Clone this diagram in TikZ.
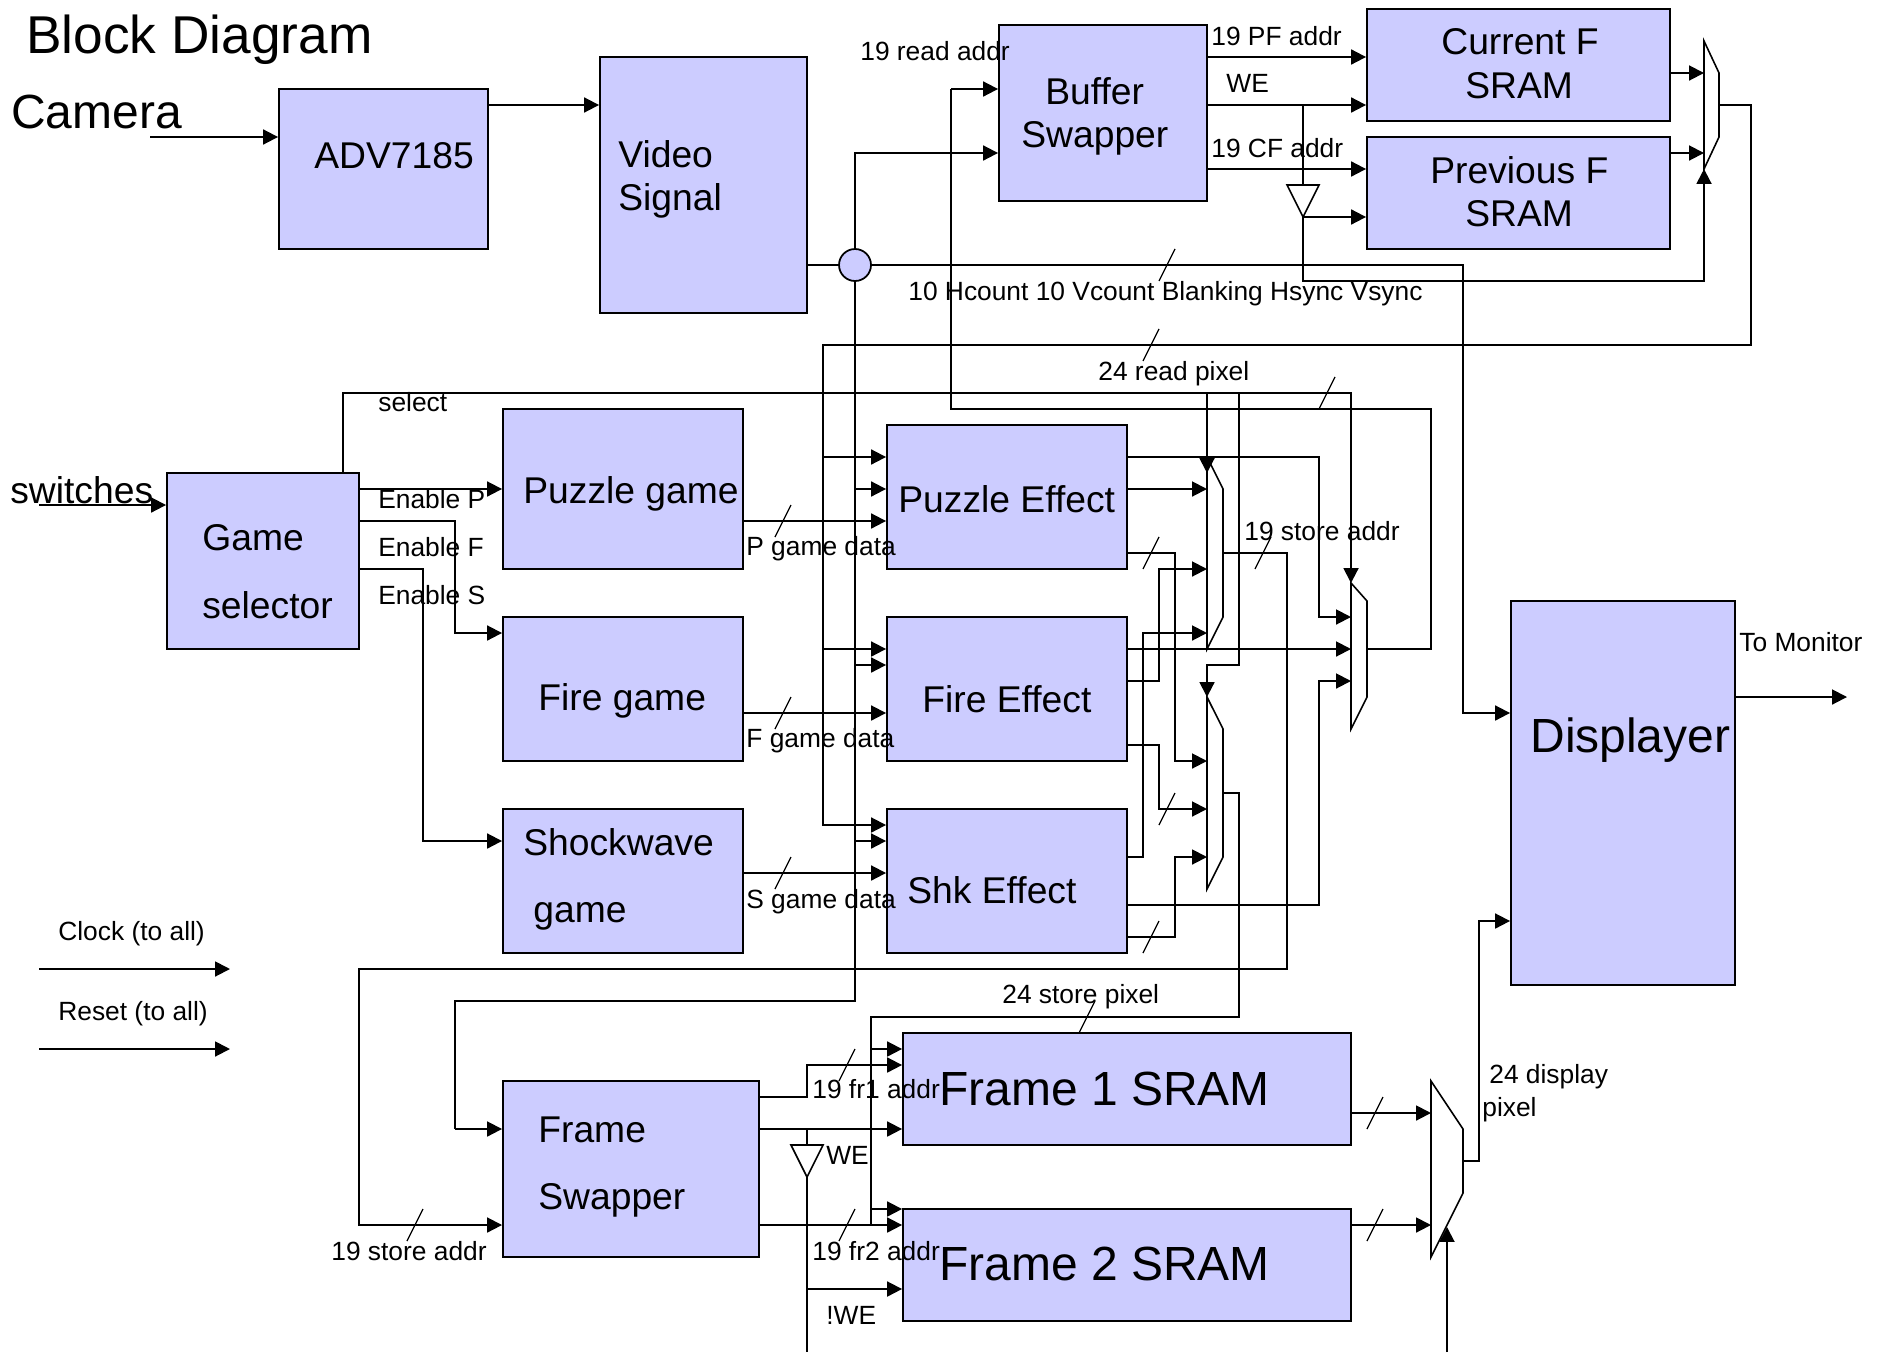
\documentclass[tikz,border=0pt]{standalone}
\usepackage{fontspec}
\setmainfont{Liberation Sans}
\usepackage{xcolor}
\usetikzlibrary{arrows.meta, calc}
\definecolor{blockblue}{RGB}{204,204,255}

\begin{document}
\begin{tikzpicture}[x=0.02cm, y=-0.02cm,
    blockbox/.style={rectangle, draw=black, fill=blockblue, line width=1.1pt, inner sep=0pt},
    muxnode/.style={rectangle, inner sep=0pt, outer sep=0pt},
    muxline/.style={line width=0.9pt, line join=miter},
    bubble/.style={circle, draw=black, fill=blockblue, line width=1pt, inner sep=0pt, minimum size=0.64cm},
    wire/.style={-{Triangle[length=8.5pt, width=8.5pt]}, line width=1.1pt},
    plainwire/.style={line width=1.1pt},
    hugetext/.style={anchor=base west, inner sep=0pt, font=\fontsize{30.3}{32}\selectfont},
    bigtext/.style={anchor=base west, inner sep=0pt, font=\fontsize{27.3}{29}\selectfont},
    midtext/.style={anchor=base west, inner sep=0pt, font=\fontsize{21.2}{23}\selectfont},
    smalltext/.style={anchor=base west, inner sep=0pt, font=\fontsize{15}{17}\selectfont}]
    \useasboundingbox (0,0) rectangle (1888,1352);

    % blocks
    \node[blockbox, minimum width=4.18cm, minimum height=3.2cm] (adv) at (383.5,169) {};
    \node[blockbox, minimum width=4.14cm, minimum height=5.12cm] (video) at (703.5,185) {};
    \node[blockbox, minimum width=4.16cm, minimum height=3.52cm] (bufsw) at (1103,113) {};
    \node[blockbox, minimum width=6.06cm, minimum height=2.24cm] (cursram) at (1518.5,65) {};
    \node[blockbox, minimum width=6.06cm, minimum height=2.24cm] (prevsram) at (1518.5,193) {};
    \node[blockbox, minimum width=3.84cm, minimum height=3.52cm] (gamesel) at (263,561) {};
    \node[blockbox, minimum width=4.8cm, minimum height=3.2cm] (puzgame) at (623,489) {};
    \node[blockbox, minimum width=4.8cm, minimum height=2.88cm] (firegame) at (623,689) {};
    \node[blockbox, minimum width=4.8cm, minimum height=2.88cm] (shkgame) at (623,881) {};
    \node[blockbox, minimum width=4.8cm, minimum height=2.88cm] (puzeff) at (1007,497) {};
    \node[blockbox, minimum width=4.8cm, minimum height=2.88cm] (fireeff) at (1007,689) {};
    \node[blockbox, minimum width=4.8cm, minimum height=2.88cm] (shkeff) at (1007,881) {};
    \node[blockbox, minimum width=5.12cm, minimum height=3.52cm] (frameswap) at (631,1169) {};
    \node[blockbox, minimum width=8.96cm, minimum height=2.24cm] (frameone) at (1127,1089) {};
    \node[blockbox, minimum width=8.96cm, minimum height=2.24cm] (frametwo) at (1127,1265) {};
    \node[blockbox, minimum width=4.48cm, minimum height=7.68cm] (disp) at (1623,793) {};
    \node[bubble] (split) at (855,265) {};

    % muxes and inverters
    \node[muxnode, minimum width=0.3cm, minimum height=2.56cm] (topmux) at (1711.5,105) {};
    \node[muxnode, minimum width=0.32cm, minimum height=3.84cm] (muxa) at (1215,553) {};
    \node[muxnode, minimum width=0.32cm, minimum height=3.84cm] (muxb) at (1215,793) {};
    \node[muxnode, minimum width=0.32cm, minimum height=2.92cm] (muxc) at (1359,656) {};
    \node[muxnode, minimum width=0.64cm, minimum height=3.52cm] (dispmux) at (1447,1169) {};
    \node[muxnode, minimum width=0.64cm, minimum height=0.64cm] (invtop) at (1303,201) {};
    \node[muxnode, minimum width=0.64cm, minimum height=0.64cm] (invbot) at (807,1161) {};
    \draw[muxline] (topmux.north west) -- (topmux.east |- 0,73) -- (topmux.east |- 0,137) -- (topmux.south west) -- cycle;
    \draw[muxline] (muxa.north west) -- (muxa.east |- 0,489) -- (muxa.east |- 0,617) -- (muxa.south west) -- cycle;
    \draw[muxline] (muxb.north west) -- (muxb.east |- 0,729) -- (muxb.east |- 0,857) -- (muxb.south west) -- cycle;
    \draw[muxline] (muxc.north west) -- (muxc.east |- 0,601) -- (muxc.east |- 0,697) -- (muxc.south west) -- cycle;
    \draw[muxline] (dispmux.north west) -- (dispmux.east |- 0,1129) -- (dispmux.east |- 0,1193) -- (dispmux.south west) -- cycle;
    \draw[muxline] (invtop.north west) -- (invtop.north east) -- (invtop.south) -- cycle;
    \draw[muxline] (invbot.north west) -- (invbot.north east) -- (invbot.south) -- cycle;

    % free ends
    \coordinate (camin) at (150,137);
    \coordinate (swin) at (39,505);
    \coordinate (clockin) at (39,969);
    \coordinate (clockout) at (230,969);
    \coordinate (resetin) at (39,1049);
    \coordinate (resetout) at (230,1049);
    \coordinate (monout) at (1847,697);
    \coordinate (webot) at (807,1352);
    \coordinate (dispsel) at (1447,1352);

    % top row
    \draw[wire] (camin) -- (adv.west |- camin);
    \draw[wire] (adv.east |- 0,105) -- (video.west |- 0,105);
    \draw[plainwire] (video.east |- split) -- (split);
    \draw[wire] (split) -- (split |- 0,153) -- (bufsw.west |- 0,153);
    \draw[wire] (bufsw.east |- 0,57) -- (cursram.west |- 0,57);
    \draw[wire] (bufsw.east |- 0,105) -- (cursram.west |- 0,105);
    \draw[wire] (bufsw.east |- 0,169) -- (prevsram.west |- 0,169);
    \draw[plainwire] (invtop.north |- 0,105) -- (invtop.north);
    \draw[wire] (invtop.south) -- (prevsram.west |- invtop.south);
    \draw[wire] (invtop.south) -- (1303,281) -- (1704,281) -- (topmux.south west);
    \draw[wire] (cursram.east |- 0,73) -- (topmux.west |- 0,73);
    \draw[wire] (prevsram.east |- 0,153) -- (topmux.west |- 0,153);
    \draw[wire] (split) -- (1463,265) -- (1463,713) -- (disp.west |- 0,713);
    \draw[wire] (disp.east |- monout) -- (monout);

    % read pixel bus
    \draw[wire] (topmux.east) -- (1751,105) -- (1751,345) -- (823,345) -- (823,825) -- (shkeff.west |- 0,825);
    \draw[wire] (823,457) -- (puzeff.west |- 0,457);
    \draw[wire] (823,649) -- (fireeff.west |- 0,649);

    % sync bus
    \draw[plainwire] (split) -- (855,1001) -- (455,1001) -- (455,1129);
    \draw[wire] (455,1129) -- (frameswap.west |- 0,1129);
    \draw[wire] (855,489) -- (puzeff.west |- 0,489);
    \draw[wire] (855,665) -- (fireeff.west |- 0,665);
    \draw[wire] (855,841) -- (shkeff.west |- 0,841);

    % game selection
    \draw[wire] (swin) -- (gamesel.west |- swin);
    \draw[wire] (gamesel.east |- 0,489) -- (puzgame.west |- 0,489);
    \draw[wire] (gamesel.east |- 0,521) -- (455,521) -- (455,633) -- (firegame.west |- 0,633);
    \draw[wire] (gamesel.east |- 0,569) -- (423,569) -- (423,841) -- (shkgame.west |- 0,841);
    \draw[wire] (puzgame.east |- 0,521) -- (puzeff.west |- 0,521);
    \draw[wire] (firegame.east |- 0,713) -- (fireeff.west |- 0,713);
    \draw[wire] (shkgame.east |- 0,873) -- (shkeff.west |- 0,873);

    % select lines
    \draw[wire] (343,0 |- gamesel.north) -- (343,393) -- (1351,393) -- (muxc.north west);
    \draw[wire] (1207,393) -- (muxa.west |- 0,473);
    \draw[wire] (1239,393) -- (1239,665) -- (1207,665) -- (muxb.north west);

    % effect outputs
    \draw[wire] (puzeff.east |- 0,457) -- (1319,457) -- (1319,617) -- (muxc.west |- 0,617);
    \draw[wire] (puzeff.east |- 0,489) -- (muxa.west |- 0,489);
    \draw[wire] (puzeff.east |- 0,553) -- (1175,553) -- (1175,761) -- (muxb.west |- 0,761);
    \draw[wire] (fireeff.east |- 0,649) -- (muxc.west |- 0,649);
    \draw[wire] (fireeff.east |- 0,681) -- (1159,681) -- (1159,569) -- (muxa.west |- 0,569);
    \draw[wire] (fireeff.east |- 0,745) -- (1159,745) -- (1159,809) -- (muxb.west |- 0,809);
    \draw[wire] (shkeff.east |- 0,857) -- (1143,857) -- (1143,633) -- (muxa.west |- 0,633);
    \draw[wire] (shkeff.east |- 0,905) -- (1319,905) -- (1319,681) -- (muxc.west |- 0,681);
    \draw[wire] (shkeff.east |- 0,937) -- (1175,937) -- (1175,857) -- (muxb.west |- 0,857);
    \draw[plainwire] (muxc.east |- 0,649) -- (1431,649) -- (1431,409) -- (951,409) -- (951,89);
    \draw[wire] (951,89) -- (bufsw.west |- 0,89);

    % store buses
    \draw[wire] (muxa.east) -- (1287,553) -- (1287,969) -- (359,969) -- (359,1225) -- (frameswap.west |- 0,1225);
    \draw[plainwire] (muxb.east) -- (1239,793) -- (1239,1017) -- (871,1017) -- (871,1225);
    \draw[wire] (871,1049) -- (frameone.west |- 0,1049);
    \draw[wire] (871,1209) -- (frametwo.west |- 0,1209);

    % frame swapper outputs
    \draw[wire] (frameswap.east |- 0,1097) -- (807,1097) -- (807,1065) -- (frameone.west |- 0,1065);
    \draw[wire] (frameswap.east |- 0,1129) -- (frameone.west |- 0,1129);
    \draw[wire] (frameswap.east |- 0,1225) -- (frametwo.west |- 0,1225);
    \draw[plainwire] (invbot.north |- 0,1129) -- (invbot.north);
    \draw[plainwire] (invbot.south) -- (webot);
    \draw[wire] (invbot.south |- 0,1289) -- (frametwo.west |- 0,1289);

    % display path
    \draw[wire] (frameone.east |- 0,1113) -- (dispmux.west |- 0,1113);
    \draw[wire] (frametwo.east |- 0,1225) -- (dispmux.west |- 0,1225);
    \draw[wire] (dispmux.east |- 0,1161) -- (1479,1161) -- (1479,921) -- (disp.west |- 0,921);
    \draw[wire] (dispsel) -- (dispmux.center |- 0,1227);
    \draw[wire] (clockin) -- (clockout);
    \draw[wire] (resetin) -- (resetout);

    % bus marks
    \foreach \bx/\by in {1167/265, 1151/345, 1327/393, 783/521, 783/713, 783/873,
        1151/553, 1263/553, 1167/809, 1151/937, 1087/1017, 847/1065, 847/1225,
        415/1225, 1375/1113, 1375/1225}
      \draw[line width=0.7pt] ({\bx-8},{\by+16}) -- ({\bx+8},{\by-16});

    % texts
    \node[hugetext] (titlelab) at (26,53) {Block Diagram};
    \node[bigtext] (camlab) at (11,128) {Camera};
    \node[midtext] (swlab) at (10,503) {switches};
    \node[midtext] (advlab) at (314,168) {ADV7185};
    \node[midtext] (videolab) at (618,167) {Video};
    \node[midtext] (signallab) at (618,210) {Signal};
    \node[midtext] (bufferlab) at (1045,104) {Buffer};
    \node[midtext] (swapperlab) at (1021,147) {Swapper};
    \node[midtext] (curlab) at (1441,54) {Current F};
    \node[midtext] (cursramlab) at (1465,98) {SRAM};
    \node[midtext] (prevlab) at (1430,183) {Previous F};
    \node[midtext] (prevsramlab) at (1465,226) {SRAM};
    \node[midtext] (gamelab) at (202,550) {Game};
    \node[midtext] (selectorlab) at (202,618) {selector};
    \node[midtext] (puzgamelab) at (523,503) {Puzzle game};
    \node[midtext] (firegamelab) at (538,710) {Fire game};
    \node[midtext] (shocklab) at (523,855) {Shockwave};
    \node[midtext] (shockgamelab) at (533,922) {game};
    \node[midtext] (puzefflab) at (898,512) {Puzzle Effect};
    \node[midtext] (fireefflab) at (922,712) {Fire Effect};
    \node[midtext] (shkefflab) at (907,903) {Shk Effect};
    \node[midtext] (framelab) at (538,1142) {Frame};
    \node[midtext] (fswaplab) at (538,1209) {Swapper};
    \node[bigtext] (frameonelab) at (939,1105) {Frame 1 SRAM};
    \node[bigtext] (frametwolab) at (939,1280) {Frame 2 SRAM};
    \node[bigtext] (displab) at (1530,752) {Displayer};
    \node[smalltext] (readaddrlab) at (860,60) {19 read addr};
    \node[smalltext] (pfaddrlab) at (1211,45) {19 PF addr};
    \node[smalltext] (welab) at (1226,92) {WE};
    \node[smalltext] (cfaddrlab) at (1211,157) {19 CF addr};
    \node[smalltext] (synclab) at (908,300) {10 Hcount 10 Vcount Blanking Hsync Vsync};
    \node[smalltext] (readpixlab) at (1098,380) {24 read pixel};
    \node[smalltext] (selectlab) at (378,411) {select};
    \node[smalltext] (enplab) at (378,508) {Enable P};
    \node[smalltext] (enflab) at (378,556) {Enable F};
    \node[smalltext] (enslab) at (378,604) {Enable S};
    \node[smalltext] (pdatalab) at (746,555) {P game data};
    \node[smalltext] (fdatalab) at (746,747) {F game data};
    \node[smalltext] (sdatalab) at (746,908) {S game data};
    \node[smalltext] (storetoplab) at (1244,540) {19 store addr};
    \node[smalltext] (monlab) at (1739,651) {To Monitor};
    \node[smalltext] (clocklab) at (58,940) {Clock (to all)};
    \node[smalltext] (resetlab) at (58,1020) {Reset (to all)};
    \node[smalltext] (storepixlab) at (1002,1003) {24 store pixel};
    \node[smalltext] (fronelab) at (812,1098) {19 fr1 addr};
    \node[smalltext] (frtwolab) at (812,1260) {19 fr2 addr};
    \node[smalltext] (webotlab) at (826,1164) {WE};
    \node[smalltext] (nwelab) at (826,1324) {!WE};
    \node[smalltext] (storebotlab) at (331,1260) {19 store addr};
    \node[smalltext] (displaylab) at (1489,1083) {24 display};
    \node[smalltext] (pixellab) at (1482,1116) {pixel};
\end{tikzpicture}
\end{document}
